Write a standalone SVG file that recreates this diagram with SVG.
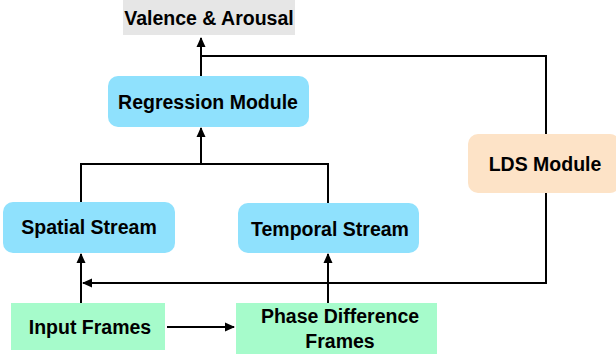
<svg xmlns="http://www.w3.org/2000/svg" width="616" height="354" viewBox="0 0 616 354">
<style>
text{font-family:"Liberation Sans",Arial,sans-serif;font-weight:bold;font-size:19.5px;fill:#000;text-anchor:middle}
.blue{fill:#8fe1fd}
.green{fill:#a6fbcb}
.peach{fill:#fde3c7}
.gray{fill:#e6e6e6}
.ln{fill:none;stroke:#000;stroke-width:2}
</style>
<defs>
<marker id="ah" markerWidth="10" markerHeight="10" refX="9" refY="5" orient="auto" markerUnits="userSpaceOnUse">
<path d="M0,0.5 L10,5 L0,9.5 Z" fill="#000"/>
</marker>
</defs>
<g id="valence"><rect class="gray" x="123" y="0" width="172" height="35"/><text x="209" y="25">Valence &amp; Arousal</text></g>
<g id="regression"><rect class="blue" x="108" y="76" width="201" height="51" rx="10"/><text x="208" y="109">Regression Module</text></g>
<g id="lds"><rect class="peach" x="468" y="134" width="152" height="59" rx="10"/><text x="545" y="171">LDS Module</text></g>
<g id="spatial"><rect class="blue" x="3" y="202" width="172" height="51" rx="10"/><text x="89" y="234">Spatial Stream</text></g>
<g id="temporal"><rect class="blue" x="238" y="203" width="181" height="50" rx="10"/><text x="330" y="236">Temporal Stream</text></g>
<g id="input"><rect class="green" x="11" y="303" width="154" height="47"/><text x="90" y="334">Input Frames</text></g>
<g id="phase"><rect class="green" x="236" y="303" width="201" height="51"/><text x="340" y="323">Phase Difference</text><text x="340" y="348">Frames</text></g>
<g id="connectors">
<path class="ln" d="M201,76 V38" marker-end="url(#ah)"/>
<path class="ln" d="M201,56 H546 V134"/>
<path class="ln" d="M546,193 V283 H83" marker-end="url(#ah)"/>
<path class="ln" d="M81,202 V164 H328 V203"/>
<path class="ln" d="M201,164 V128" marker-end="url(#ah)"/>
<path class="ln" d="M81,303 V254" marker-end="url(#ah)"/>
<path class="ln" d="M328,303 V254" marker-end="url(#ah)"/>
<path class="ln" d="M167,327 H234" marker-end="url(#ah)"/>
</g>
</svg>
